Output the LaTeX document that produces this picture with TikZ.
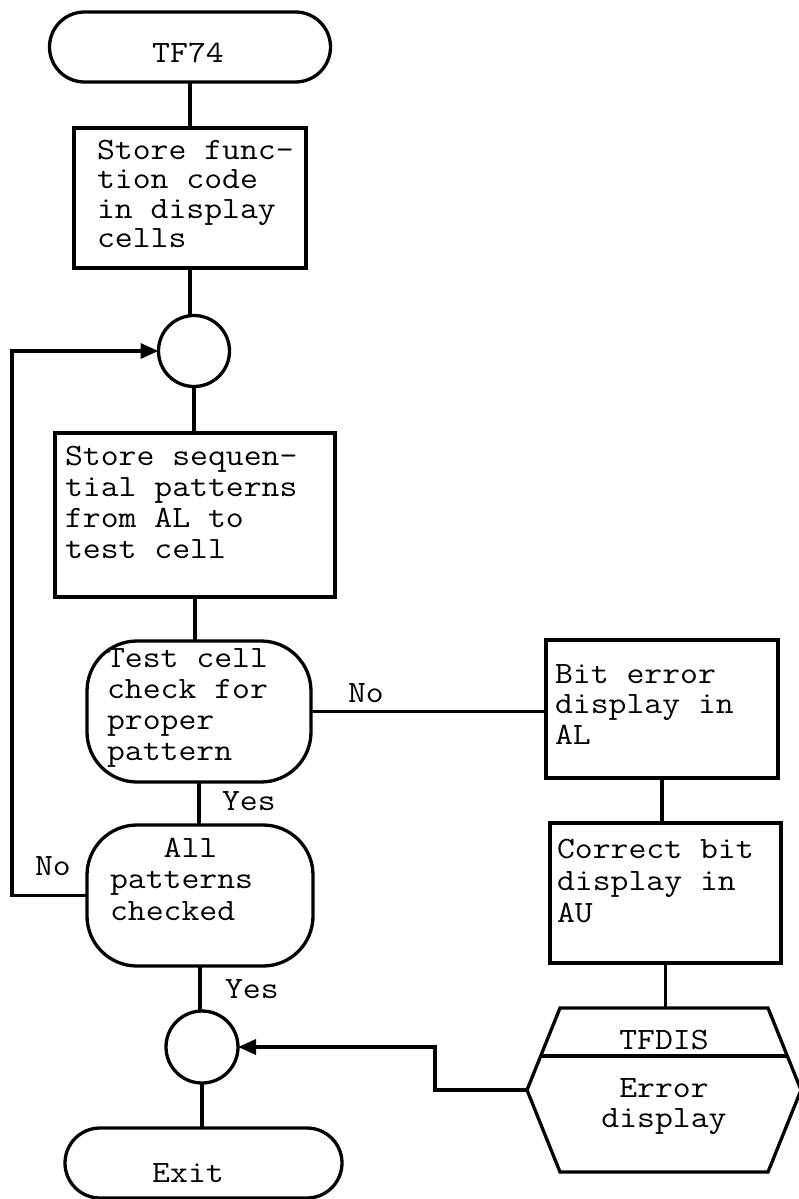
\documentclass[tikz,border=0pt]{standalone}
\usepackage{fontspec}
\newfontfamily\monof[FakeStretch=1.12]{Latin Modern Mono}
\usetikzlibrary{arrows.meta}
\newcommand\mylines[2]{\parbox[t]{400pt}{\baselineskip=#1pt\relax #2\par}}
\newcommand\mylinesc[3]{\parbox[t]{#1pt}{\centering\baselineskip=#2pt\relax #3\par}}
\begin{document}
\begin{tikzpicture}[x=1pt,y=-1pt,
  every node/.style={inner sep=0pt, outer sep=0pt},
  shp/.style={draw, line width=3.3pt},
  box/.style={shp, rectangle},
  term/.style={shp, rectangle, rounded corners=35pt},
  deci/.style={shp, rectangle, rounded corners=50pt},
  conn/.style={shp, circle},
  txt/.style={anchor=base west, font=\monof\fontsize{31}{31}\selectfont},
  ctxt/.style={anchor=base, font=\monof\fontsize{31}{31}\selectfont},
  line/.style={line width=3.3pt},
  arr/.style={line, -{Triangle[length=18pt,width=15pt]}}]
\fill[white] (0,0) rectangle (799,1199);
\useasboundingbox (0,0) rectangle (799,1199);

% left column
\node[term, minimum width=281pt, minimum height=70pt] (tf) at (190,47) {};
\node[ctxt] (tft) at (188,63) {TF74};
\node[box, minimum width=232pt, minimum height=140pt] (b1) at (190,198) {};
\node[txt] (b1t) at (97,159) {\mylines{29.5}{Store func-\\tion code\\in display\\cells}};
\node[conn, minimum size=71pt] (c1) at (194,351) {};
\node[box, minimum width=280pt, minimum height=164pt] (b2) at (195,515) {};
\node[txt] (b2t) at (65,465) {\mylines{31}{Store sequen-\\tial patterns\\from AL to\\test cell}};
\node[deci, minimum width=224pt, minimum height=141pt] (tc) at (199,711.5) {};
\node[txt] (tct) at (107,667) {\mylines{31}{Test cell\\check for\\proper\\pattern}};
\node[deci, minimum width=226pt, minimum height=141pt] (ap) at (200,895.5) {};
\node[txt] (apt) at (110,857) {\mylines{31.5}{\phantom{AAA}All\\patterns\\checked}};
\node[conn, minimum size=72pt] (c2) at (202,1047) {};
\node[term, minimum width=277pt, minimum height=70pt] (ex) at (203.5,1163) {};
\node[ctxt] (ext) at (188,1182) {Exit};

% right column
\node[box, minimum width=232pt, minimum height=138pt] (be) at (662,709) {};
\node[txt] (bet) at (555,683) {\mylines{30.5}{Bit error\\display in\\AL}};
\node[box, minimum width=231pt, minimum height=140pt] (cb) at (665.5,893) {};
\node[txt] (cbt) at (557,858) {\mylines{32}{Correct bit\\display in\\AU}};
\coordinate (hxN) at (666,1008);
\coordinate (hxW) at (527,1090);
\draw[shp] (560,1008) -- (768,1008) -- (801,1090) -- (768,1172) -- (560,1172) -- (527,1090) -- cycle;
\draw[line] (540.7,1056) -- (787.3,1056);
\node[ctxt] (tfd) at (664,1049) {TFDIS};
\node[ctxt] (edt) at (664,1097) {\mylinesc{220}{30}{Error\\display}};

% labels
\node[txt] (no1) at (348,702) {No};
\node[txt] (y1) at (222,810) {Yes};
\node[txt] (no2) at (35,875) {No};
\node[txt] (y2) at (225,998) {Yes};

% connectors
\draw[line] (tf.south) -- (tf.south |- b1.north);
\draw[line] (b1.south) -- (b1.south |- c1.north);
\draw[line] (c1.south) -- (c1.south |- b2.north);
\draw[line] (b2.south) -- (b2.south |- tc.north);
\draw[line] (tc.south) -- (tc.south |- ap.north);
\draw[line] (ap.south) -- (ap.south |- c2.north);
\draw[line] (c2.south) -- (c2.south |- ex.north);
\draw[line] (tc.east) -- (tc.east -| be.west);
\draw[line] (be.south) -- (be.south |- cb.north);
\draw[line] (cb.south) -- (cb.south |- hxN);
\draw[arr] (ap.west) -- ++(-75,0) |- (c1.west);
\draw[arr] (hxW) -- ++(-92,0) |- (c2.east);
\end{tikzpicture}
\end{document}
